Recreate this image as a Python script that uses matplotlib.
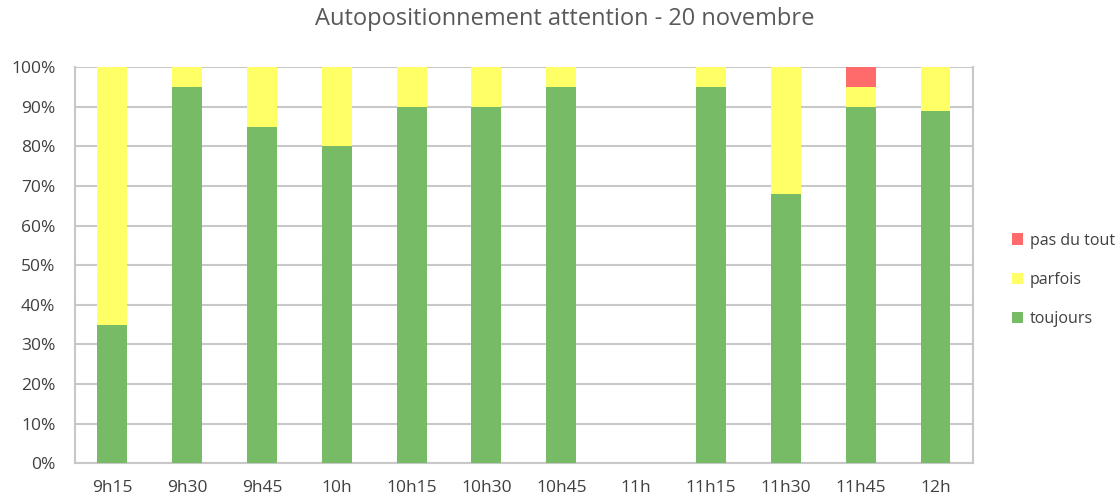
import numpy as np
import matplotlib.pyplot as plt
from matplotlib.ticker import PercentFormatter

plt.rcParams['font.family'] = ['Open Sans', 'DejaVu Sans']

# -----------------------------
# Data (percent)
creneaux = ['9h15', '9h30', '9h45', '10h', '10h15', '10h30', '10h45',
            '11h', '11h15', '11h30', '11h45', '12h']
toujours = [35, 95, 85, 80, 90, 90, 95, 0, 95, 68, 90, 89]
parfois = [65, 5, 15, 20, 10, 10, 5, 0, 5, 32, 5, 11]
pas_du_tout = [0, 0, 0, 0, 0, 0, 0, 0, 0, 0, 5, 0]
# -----------------------------

c_green = '#77BB66'
c_yellow = '#FFFF66'
c_red = '#FF6B6B'
grid_col = '#C8C8C8'
txt_col = '#404040'

fig = plt.figure(figsize=(11.17, 4.97), dpi=100)
ax = fig.add_axes([0.067, 0.068, 0.804, 0.797])

x = np.arange(len(creneaux))
t = np.array(toujours)
p = np.array(parfois)
r = np.array(pas_du_tout)
w = 0.4

ax.bar(x, t, w, color=c_green, label='toujours', zorder=3)
ax.bar(x, p, w, bottom=t, color=c_yellow, label='parfois', zorder=3)
ax.bar(x, r, w, bottom=t + p, color=c_red, label='pas du tout', zorder=3)

ax.set_xlim(-0.5, len(creneaux) - 0.5)
ax.set_ylim(0, 100)
ax.set_yticks(np.arange(0, 101, 10))
ax.yaxis.set_major_formatter(PercentFormatter(decimals=0))
ax.set_xticks(x)
ax.set_xticklabels(creneaux)
ax.tick_params(axis='both', length=0, labelsize=12.5, colors=txt_col)
ax.tick_params(axis='x', pad=12)
ax.tick_params(axis='y', pad=14)

ax.grid(axis='y', color=grid_col, linewidth=1.5, zorder=0)
for side in ['left', 'bottom', 'right']:
    ax.spines[side].set_color(grid_col)
    ax.spines[side].set_linewidth(1.5)
ax.spines['top'].set_visible(False)

fig.suptitle('Autopositionnement attention - 20 novembre', fontsize=17,
             color='#595959', x=0.506, y=0.985, va='top')

handles, labels = ax.get_legend_handles_labels()
fig.legend(handles[::-1], labels[::-1], loc='center left',
           bbox_to_anchor=(0.899, 0.437), frameon=False, fontsize=11.5,
           handlelength=0.7, handleheight=0.7, handletextpad=0.4,
           labelspacing=1.45, labelcolor=txt_col, borderpad=0)

fig.savefig('out.png', dpi=100)
